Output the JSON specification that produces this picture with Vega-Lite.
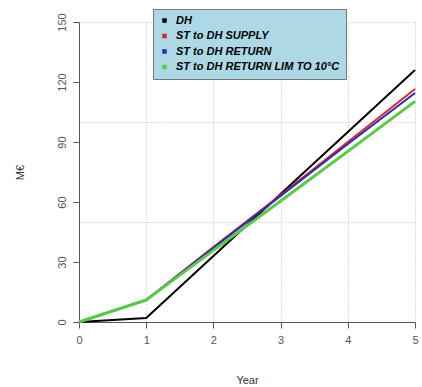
{
  "$schema": "https://vega.github.io/schema/vega-lite/v6.json",
  "width": 336,
  "height": 300,
  "autosize": "none",
  "padding": {"left": 79, "top": 22, "right": 7, "bottom": 65},
  "background": "white",
  "config": {
    "view": {"stroke": null},
    "font": "Liberation Sans",
    "axis": {
      "labelFont": "Liberation Sans",
      "titleFont": "Liberation Sans",
      "labelFontSize": 11,
      "titleFontSize": 11,
      "titleFontWeight": "normal",
      "labelColor": "#555",
      "titleColor": "#333",
      "domainColor": "#555",
      "tickColor": "#555",
      "tickSize": 6
    }
  },
  "data": {
    "values": [
      {"year": 0, "v": 0, "s": "DH"},
      {"year": 1, "v": 2, "s": "DH"},
      {"year": 2, "v": 33, "s": "DH"},
      {"year": 3, "v": 64, "s": "DH"},
      {"year": 4, "v": 95, "s": "DH"},
      {"year": 5, "v": 126, "s": "DH"},
      {"year": 0, "v": 0, "s": "ST to DH SUPPLY"},
      {"year": 1, "v": 11, "s": "ST to DH SUPPLY"},
      {"year": 2, "v": 37.5, "s": "ST to DH SUPPLY"},
      {"year": 3, "v": 63.5, "s": "ST to DH SUPPLY"},
      {"year": 4, "v": 90, "s": "ST to DH SUPPLY"},
      {"year": 5, "v": 116.5, "s": "ST to DH SUPPLY"},
      {"year": 0, "v": 0, "s": "ST to DH RETURN"},
      {"year": 1, "v": 11, "s": "ST to DH RETURN"},
      {"year": 2, "v": 37, "s": "ST to DH RETURN"},
      {"year": 3, "v": 63, "s": "ST to DH RETURN"},
      {"year": 4, "v": 89, "s": "ST to DH RETURN"},
      {"year": 5, "v": 114.5, "s": "ST to DH RETURN"},
      {"year": 0, "v": 0, "s": "ST to DH RETURN LIM TO 10°C"},
      {"year": 1, "v": 11, "s": "ST to DH RETURN LIM TO 10°C"},
      {"year": 2, "v": 35.8, "s": "ST to DH RETURN LIM TO 10°C"},
      {"year": 3, "v": 60.5, "s": "ST to DH RETURN LIM TO 10°C"},
      {"year": 4, "v": 85.3, "s": "ST to DH RETURN LIM TO 10°C"},
      {"year": 5, "v": 110.3, "s": "ST to DH RETURN LIM TO 10°C"}
    ]
  },
  "layer": [
    {
      "mark": {"type": "line", "opacity": 0},
      "encoding": {
        "x": {"field": "year", "type": "quantitative", "scale": {"domain": [0, 5], "nice": false, "zero": false}, "axis": null},
        "y": {
          "field": "v", "type": "quantitative", "scale": {"domain": [0, 150], "nice": false},
          "axis": {"orient": "right", "values": [50, 100, 150], "grid": true, "gridDash": [1, 2], "gridColor": "#bbb", "labels": false, "ticks": false, "domain": false, "title": null}
        }
      }
    },
    {
      "mark": {"type": "line", "strokeCap": "butt"},
      "encoding": {
        "x": {
          "field": "year", "type": "quantitative",
          "axis": {"title": "Year", "values": [0, 1, 2, 3, 4, 5], "grid": true, "gridDash": [1, 2], "gridColor": "#bbb", "labelPadding": 6, "titlePadding": 29, "labelFlush": false}
        },
        "y": {
          "field": "v", "type": "quantitative",
          "axis": {"title": "M€", "values": [0, 30, 60, 90, 120, 150], "grid": false, "labelAngle": -90, "labelAlign": "center", "labelBaseline": "bottom", "labelPadding": 6, "titlePadding": 31, "labelFlush": false}
        },
        "color": {
          "field": "s", "type": "nominal",
          "scale": {
            "domain": ["DH", "ST to DH SUPPLY", "ST to DH RETURN", "ST to DH RETURN LIM TO 10°C"],
            "range": ["#000000", "#d8262e", "#2a2ab8", "#55cc44"]
          },
          "sort": ["DH", "ST to DH SUPPLY", "ST to DH RETURN", "ST to DH RETURN LIM TO 10°C"],
          "legend": {
            "orient": "none", "legendX": 74, "legendY": -13,
            "title": null,
            "fillColor": "#add8e6", "strokeColor": "#777",
            "padding": 6,
            "symbolType": "square", "symbolSize": 4, "symbolStrokeWidth": 2.5,
            "labelFont": "Liberation Sans", "labelFontSize": 11, "labelFontWeight": "bold", "labelFontStyle": "italic",
            "labelColor": "#000", "labelOffset": 6, "rowPadding": 2.5, "labelLimit": 300
          }
        },
        "strokeWidth": {"condition": {"test": "datum.s === 'ST to DH RETURN LIM TO 10°C'", "value": 3}, "value": 2}
      }
    }
  ],
  "resolve": {"axis": {"y": "independent", "x": "independent"}}
}
